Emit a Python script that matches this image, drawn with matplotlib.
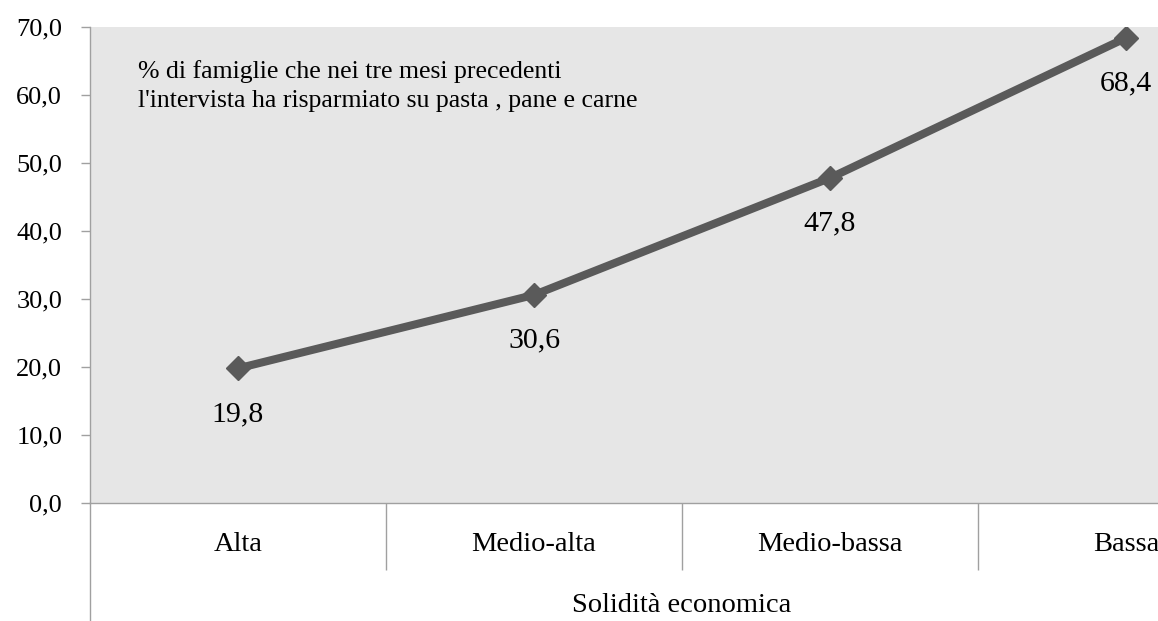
import matplotlib
matplotlib.use("Agg")
import matplotlib.pyplot as plt
from matplotlib.ticker import FuncFormatter, FixedLocator

categories = ["Alta", "Medio-alta", "Medio-bassa", "Bassa"]
values = [19.8, 30.6, 47.8, 68.4]
value_labels = ["19,8", "30,6", "47,8", "68,4"]
yticks = [0, 10, 20, 30, 40, 50, 60, 70]
note = "% di famiglie che nei tre mesi precedenti\nl'intervista ha risparmiato su pasta , pane e carne"
xlabel = "Solidità economica"

plt.rcParams['font.family'] = ['Liberation Serif', 'DejaVu Serif']

W, H = 1158, 621
fig = plt.figure(figsize=(W / 100, H / 100), dpi=100)
left_px, top_px, bottom_px, cat_w = 90, 27, 503, 296
ax = fig.add_axes([left_px / W, 1 - bottom_px / H, 4 * cat_w / W, (bottom_px - top_px) / H])
ax.set_facecolor("#E6E6E6")

x = list(range(len(categories)))
ax.plot(x, values, color="#5A5A5A", lw=5.8, marker="D", markersize=12.5,
        markerfacecolor="#5A5A5A", markeredgecolor="#5A5A5A", solid_joinstyle="miter", zorder=3)
for xi, v, lab in zip(x, values, value_labels):
    ax.annotate(lab, (xi, v), xytext=(0, -33), textcoords="offset points",
                ha="center", va="center", fontsize=21.5, color="black")

ax.set_xlim(-0.5, 3.5)
ax.set_ylim(0, 70)
ax.set_yticks(yticks)
ax.yaxis.set_major_formatter(FuncFormatter(lambda v, p: f"{v:.1f}".replace(".", ",")))
ax.tick_params(axis="y", length=6.5, width=1, color="#A0A0A0", pad=13.5, labelsize=19)

ax.set_xticks(x)
ax.set_xticklabels(categories)
ax.tick_params(axis="x", which="major", length=0, pad=21, labelsize=20.5)
ax.xaxis.set_minor_locator(FixedLocator([0.5, 1.5, 2.5]))
ax.tick_params(axis="x", which="minor", length=48, width=1, color="#A0A0A0", direction="out")

for s in ["top", "right"]:
    ax.spines[s].set_visible(False)
for s in ["left", "bottom"]:
    ax.spines[s].set_color("#A0A0A0")
    ax.spines[s].set_linewidth(1)

ax.plot([0, 0], [0, -0.3], transform=ax.transAxes, color="#A0A0A0", lw=1, clip_on=False)

ax.set_xlabel(xlabel, fontsize=20.5, va="center")
ax.xaxis.set_label_coords(0.5, -(606 - bottom_px) / (bottom_px - top_px))

ax.text((138 - left_px) / (4 * cat_w), (bottom_px - 86) / (bottom_px - top_px), note,
        transform=ax.transAxes, fontsize=18.5, ha="left", va="center", linespacing=1.4)

fig.savefig("out.png", dpi=100, facecolor="white")
